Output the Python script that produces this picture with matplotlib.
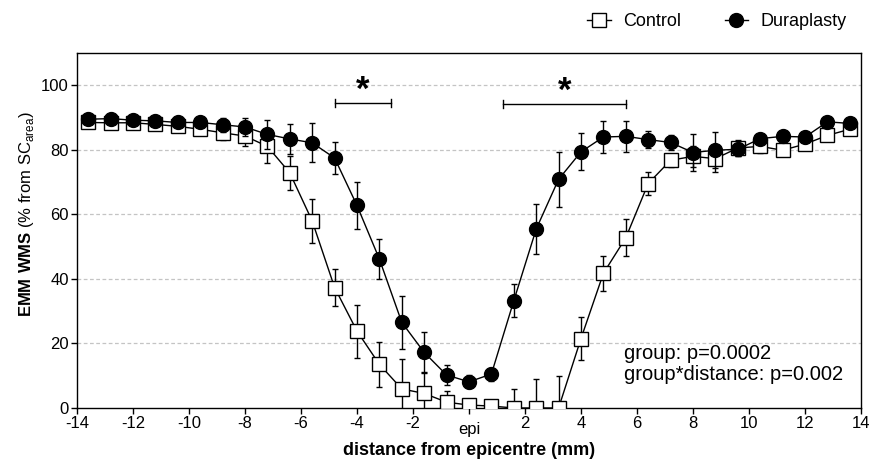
"""
EMM white matter sparing along the cord: Control vs Duraplasty
"""

import numpy as np
import matplotlib
matplotlib.use('Agg')
import matplotlib.pyplot as plt
import matplotlib.transforms as mtransforms
from matplotlib.lines import Line2D

# Configuration
plt.rcParams['font.family'] = ['Liberation Sans', 'DejaVu Sans']
plt.rcParams['font.size'] = 12
plt.rcParams['mathtext.fontset'] = 'custom'
plt.rcParams['mathtext.rm'] = 'Liberation Sans'
plt.rcParams['mathtext.bf'] = 'Liberation Sans:bold'
plt.rcParams['axes.linewidth'] = 1.0

# Data (distance from epicentre in mm, 0.8 mm steps)
distance = [-13.6, -12.8, -12.0, -11.2, -10.4, -9.6, -8.8, -8.0, -7.2, -6.4,
            -5.6, -4.8, -4.0, -3.2, -2.4, -1.6, -0.8, 0.0, 0.8, 1.6,
            2.4, 3.2, 4.0, 4.8, 5.6, 6.4, 7.2, 8.0, 8.8, 9.6,
            10.4, 11.2, 12.0, 12.8, 13.6]

control_mean = [88.4, 88.3, 88.3, 87.8, 87.2, 86.3, 85.2, 84.2, 81.0, 72.8,
                57.9, 37.3, 23.8, 13.5, 5.9, 4.5, 1.8, 0.9, 0.6, 0.0,
                0.0, 0.0, 21.5, 41.7, 52.7, 69.5, 76.7, 77.9, 77.2, 80.5,
                81.0, 79.8, 81.7, 84.4, 86.3]
control_sem = [1.2, 1.0, 1.0, 1.2, 1.3, 1.5, 2.3, 3.2, 5.0, 5.2,
               6.9, 5.6, 8.2, 7.0, 9.2, 6.5, 3.6, 1.2, 1.0, 5.9,
               9.0, 9.8, 6.6, 5.4, 5.7, 3.5, 2.0, 3.3, 4.2, 2.5,
               2.0, 1.5, 1.8, 1.2, 1.0]

dura_mean = [89.4, 89.6, 89.1, 88.9, 88.4, 88.4, 87.7, 87.0, 84.7, 83.3,
             82.1, 77.4, 62.7, 46.1, 26.5, 17.2, 10.2, 8.1, 10.5, 33.2,
             55.4, 70.8, 79.3, 83.9, 84.1, 83.1, 82.2, 79.1, 79.8, 80.1,
             83.4, 84.1, 83.9, 88.6, 88.1]
dura_sem = [1.0, 1.0, 1.0, 1.0, 1.2, 1.5, 2.2, 2.8, 4.5, 4.6,
            6.0, 5.0, 7.3, 6.1, 8.1, 6.3, 3.2, 2.0, 2.0, 5.1,
            7.8, 8.5, 5.7, 4.8, 4.8, 2.6, 2.2, 5.7, 5.5, 2.0,
            1.5, 1.5, 1.5, 1.0, 1.0]

x_ticks = [-14, -12, -10, -8, -6, -4, -2, 0, 2, 4, 6, 8, 10, 12, 14]
x_ticklabels = ['-14', '-12', '-10', '-8', '-6', '-4', '-2', 'epi',
                '2', '4', '6', '8', '10', '12', '14']
y_ticks = [0, 20, 40, 60, 80, 100]

# significance brackets: (start, end, height)
sig_brackets = [(-4.8, -2.8, 94.5), (1.2, 5.6, 94.2)]
stats_text = 'group: p=0.0002\ngroup*distance: p=0.002'


def main():
    fig = plt.figure(figsize=(8.69, 4.66), dpi=100)
    ax = fig.add_axes([0.0886, 0.1245, 0.9022, 0.7624])

    # grid
    for yv in y_ticks[1:]:
        ax.axhline(yv, color='#c4c4c4', lw=0.9, ls=(0, (3, 2)), zorder=0)

    ax.errorbar(distance, control_mean, yerr=control_sem, color='black',
                lw=1.0, elinewidth=1.0, capsize=2.5, capthick=1.0,
                marker='s', markersize=10, markerfacecolor='white',
                markeredgecolor='black', markeredgewidth=1.0, zorder=3)
    ax.errorbar(distance, dura_mean, yerr=dura_sem, color='black',
                lw=1.0, elinewidth=1.0, capsize=2.5, capthick=1.0,
                marker='o', markersize=10, markerfacecolor='black',
                markeredgecolor='black', zorder=4)

    # significance brackets
    for x0, x1, h in sig_brackets:
        ax.plot([x0, x1], [h, h], color='black', lw=1.0)
        ax.plot([x0, x0], [h - 1.3, h + 1.3], color='black', lw=1.0)
        ax.plot([x1, x1], [h - 1.3, h + 1.3], color='black', lw=1.0)
        ax.text((x0 + x1) / 2, h + 0.8, '*', ha='center', va='baseline',
                fontsize=25, fontweight='bold')

    ax.text(5.55, 13.6, stats_text, ha='left', va='center', fontsize=14.5,
            linespacing=1.12)

    ax.set_xlim(-14, 14)
    ax.set_ylim(0, 110)
    ax.set_xticks(x_ticks)
    ax.set_xticklabels(x_ticklabels)
    ax.set_yticks(y_ticks)
    ax.tick_params(direction='out', length=4, width=1.0, labelsize=12, pad=2)

    # push 'epi' label down a bit
    offset = mtransforms.ScaledTranslation(0, -4 / 72, fig.dpi_scale_trans)
    for lbl in ax.get_xticklabels():
        if lbl.get_text() == 'epi':
            lbl.set_transform(lbl.get_transform() + offset)

    ax.set_xlabel('distance from epicentre (mm)', fontsize=13,
                  fontweight='bold', labelpad=4)
    ax.set_ylabel(r'$\mathbf{EMM\ WMS}$ (% from SC$_{\mathrm{area}}$)',
                  fontsize=12)
    ax.yaxis.set_label_coords(-0.052, 0.546)

    handles = [
        Line2D([], [], color='black', lw=1.0, marker='s', markersize=10,
               markerfacecolor='white', markeredgecolor='black'),
        Line2D([], [], color='black', lw=1.0, marker='o', markersize=10,
               markerfacecolor='black'),
    ]
    fig.legend(handles, ['Control', 'Duraplasty'], loc='center right',
               bbox_to_anchor=(847 / 869, 1 - 22 / 466), ncol=2,
               frameon=False, fontsize=13, borderpad=0, borderaxespad=0,
               handlelength=1.3, handletextpad=0.7, columnspacing=2.4)

    fig.savefig('out.png', dpi=100)
    plt.close(fig)


if __name__ == '__main__':
    main()
